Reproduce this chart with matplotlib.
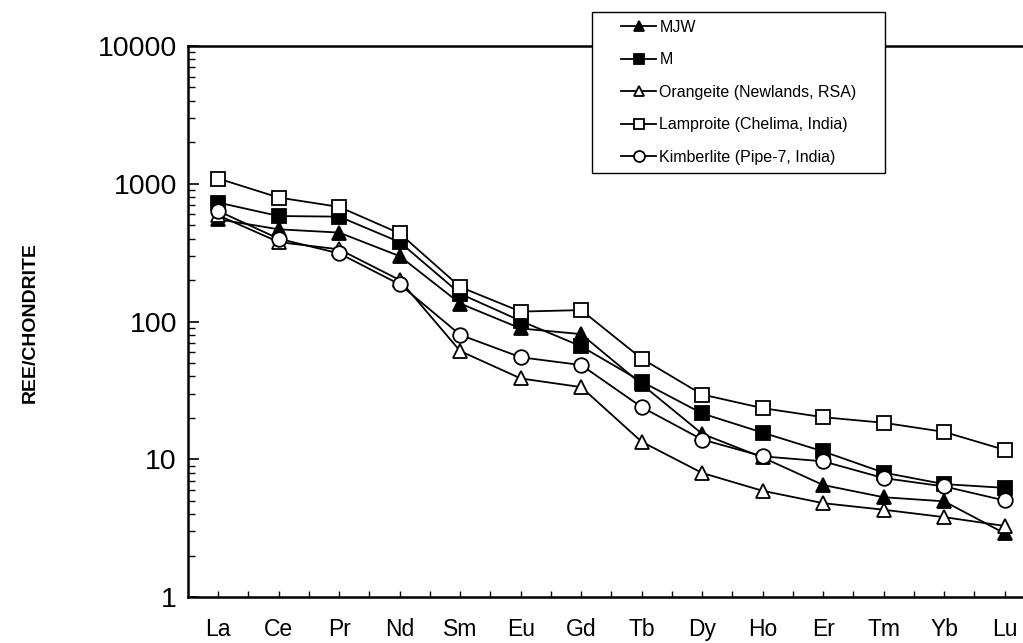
import numpy as np
import matplotlib
matplotlib.use('Agg')
import matplotlib.pyplot as plt
from matplotlib.patches import Rectangle
from matplotlib.ticker import LogLocator, NullFormatter, FixedLocator

plt.rcParams['font.family'] = ['Liberation Sans', 'DejaVu Sans']

# REE elements (x axis)
elements = ['La', 'Ce', 'Pr', 'Nd', 'Sm', 'Eu', 'Gd', 'Tb', 'Dy', 'Ho', 'Er', 'Tm', 'Yb', 'Lu']

# chondrite normalised values
mjw = [552, 467, 442, 298, 135, 89, 81, 35, 15.3, 10.3, 6.5, 5.3, 4.95, 2.9]
m = [730, 583, 577, 377, 159, 101, 66, 36.6, 21.5, 15.6, 11.4, 8.0, 6.6, 6.2]
orangeite = [590, 377, 334, 200, 61, 38.6, 33.4, 13.4, 7.95, 5.9, 4.8, 4.3, 3.8, 3.28]
lamproite = [1091, 794, 679, 436, 178, 118, 121, 53.8, 29.5, 23.5, 20.2, 18.4, 15.8, 11.7]
kimberlite = [634, 399, 312, 186, 80, 55, 48.3, 23.9, 13.9, 10.5, 9.66, 7.3, 6.35, 5.02]

labels = ['MJW', 'M', 'Orangeite (Newlands, RSA)',
          'Lamproite (Chelima, India)', 'Kimberlite (Pipe-7, India)']

W, H = 1023, 643
fig = plt.figure(figsize=(W / 100, H / 100), dpi=100)
ax = fig.add_axes([188 / W, 1 - 597 / H, 865 / W, 551 / H])

x = np.arange(len(elements))
lw = 1.3
mew = 1.3
series = [
    (mjw, '^', 'black', 10.5),
    (m, 's', 'black', 9.5),
    (orangeite, '^', 'white', 10.5),
    (lamproite, 's', 'white', 9.5),
    (kimberlite, 'o', 'white', 10.5),
]
handles = []
for (vals, mk, fc, ms), lab in zip(series, labels):
    h, = ax.plot(x, vals, color='black', lw=lw, marker=mk, ms=ms,
                 mfc=fc, mec='black', mew=mew, label=lab, clip_on=False)
    handles.append(h)

ax.set_yscale('log')
ax.set_ylim(1, 10000)
ax.set_xlim(-0.5, 13.8)

ax.yaxis.set_major_locator(FixedLocator([1, 10, 100, 1000, 10000]))
ax.yaxis.set_major_formatter(matplotlib.ticker.FuncFormatter(lambda v, p: f'{v:.0f}'))
ax.yaxis.set_minor_locator(LogLocator(base=10, subs=np.arange(2, 10)))
ax.yaxis.set_minor_formatter(NullFormatter())

ax.set_xticks(x)
ax.set_xticklabels(elements)
ax.set_xticks(x[:-1] + 0.5, minor=True)

ax.tick_params(axis='y', which='major', direction='in', length=8, width=1.2,
               labelsize=20.5, pad=8)
ax.tick_params(axis='y', which='minor', direction='in', length=5, width=1.0)
ax.tick_params(axis='x', which='both', direction='in', length=4, width=1.0,
               labelsize=16.5, pad=15)

for s in ['left', 'bottom', 'top']:
    ax.spines[s].set_linewidth(1.8)
ax.spines['right'].set_visible(False)

fig.text(30 / W, 1 - 322 / H, 'REE/CHONDRITE', rotation=90, fontsize=14,
         fontweight='bold', ha='center', va='center')

# legend box
fig.add_artist(Rectangle((592 / W, 1 - 173 / H), 293 / W, 161 / H,
                         transform=fig.transFigure, facecolor='white',
                         edgecolor='black', lw=1.0, zorder=3))
fig.legend(handles=handles, loc='upper left',
           bbox_to_anchor=(621 / W, 1 - 20 / H), frameon=False,
           fontsize=11.5, handlelength=2.2, handletextpad=0.2,
           labelspacing=1.09, borderpad=0, borderaxespad=0,
           markerscale=0.75)

fig.savefig('out.png', dpi=100)
